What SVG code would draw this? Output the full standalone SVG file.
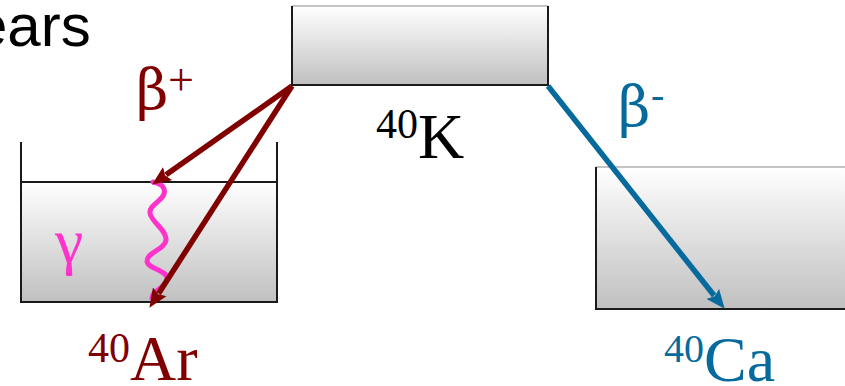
<svg xmlns="http://www.w3.org/2000/svg" width="845" height="386" viewBox="0 0 845 386">
  <style>
    .serif { font-family: "Liberation Serif", "Times New Roman", serif; }
    .greek { font-family: "DejaVu Serif", "Liberation Serif", serif; }
    .sans { font-family: "Liberation Sans", Arial, sans-serif; }
    .edge { stroke: #1a1a1a; stroke-width: 2; fill: none; }
    .lite { stroke: #b0b0b0; stroke-width: 1.5; fill: none; }
    .red { fill: #800000; }
    .blue { fill: #066a9c; }
    .arrR { stroke: #800000; stroke-width: 5.5; fill: none; }
    .arrB { stroke: #066a9c; stroke-width: 5.5; fill: none; }
  </style>
  <defs>
    <linearGradient id="g" x1="0" y1="0" x2="0" y2="1">
      <stop offset="0" stop-color="#ffffff"/>
      <stop offset="1" stop-color="#c0c0c0"/>
    </linearGradient>
    <marker id="hR" markerUnits="userSpaceOnUse" markerWidth="20" markerHeight="16" refX="2" refY="8" orient="auto" viewBox="0 0 20 16">
      <path d="M0,0 L19,8 L0,16 L3,8 z" fill="#800000"/>
    </marker>
    <marker id="hB" markerUnits="userSpaceOnUse" markerWidth="20" markerHeight="16" refX="2" refY="8" orient="auto" viewBox="0 0 20 16">
      <path d="M0,0 L19,8 L0,16 L3,8 z" fill="#066a9c"/>
    </marker>
  </defs>

  <text class="sans" x="-26" y="46" font-size="60" fill="#000">ears</text>

  <g id="k40">
    <rect x="292" y="6" width="256" height="79" fill="url(#g)"/>
    <path class="lite" d="M292,6 H548"/>
    <path class="edge" d="M292,6 V85 H548 V6"/>
    <text class="serif" x="376" y="158" fill="#000"><tspan font-size="42" dy="-20">40</tspan><tspan font-size="64" dy="20">K</tspan></text>
  </g>

  <g id="ar40">
    <rect x="21" y="182" width="256" height="120" fill="url(#g)"/>
    <path class="edge" d="M21,142 V302 H277 V142"/>
    <path class="edge" d="M21,182 H277"/>
    <text class="serif red" x="88" y="380"><tspan font-size="42" dy="-18">40</tspan><tspan font-size="64" dy="18">Ar</tspan></text>
  </g>

  <g id="ca40">
    <rect x="596" y="167" width="260" height="142" fill="url(#g)"/>
    <path class="lite" d="M596,167 H850"/>
    <path class="edge" d="M596,167 V309 H850"/>
    <text class="serif blue" x="664" y="381"><tspan font-size="40" dy="-19">40</tspan><tspan font-size="64" dy="19">Ca</tspan></text>
  </g>

  <g id="labels">
    <text class="greek red" x="136" y="109" font-size="56" font-weight="300">β</text>
    <text class="serif red" x="168" y="95" font-size="46">+</text>
    <text class="greek blue" x="618" y="126" font-size="56" font-weight="300">β</text>
    <text class="serif blue" x="651" y="108" font-size="40">-</text>
    <text class="serif" x="55" y="262" font-size="64" fill="#ff33cc">γ</text>
  </g>

  <g id="connectors">
    <path d="M153,182 C160,183 166,187 164,194 C162,201 149,205 150,213 C151,222 167,230 166,240 C165,250 147,252 147,261 C147,269 168,270 167,279 C166,288 152,290 152,298" stroke="#ff33cc" stroke-width="5" fill="none" stroke-linecap="round"/>
    <line class="arrR" x1="292" y1="86" x2="166.0" y2="174.8" marker-end="url(#hR)"/>
    <line class="arrR" x1="292" y1="86" x2="158.6" y2="293.5" marker-end="url(#hR)"/>
    <line class="arrB" x1="548" y1="86" x2="714.1" y2="295.5" marker-end="url(#hB)"/>
  </g>
</svg>
